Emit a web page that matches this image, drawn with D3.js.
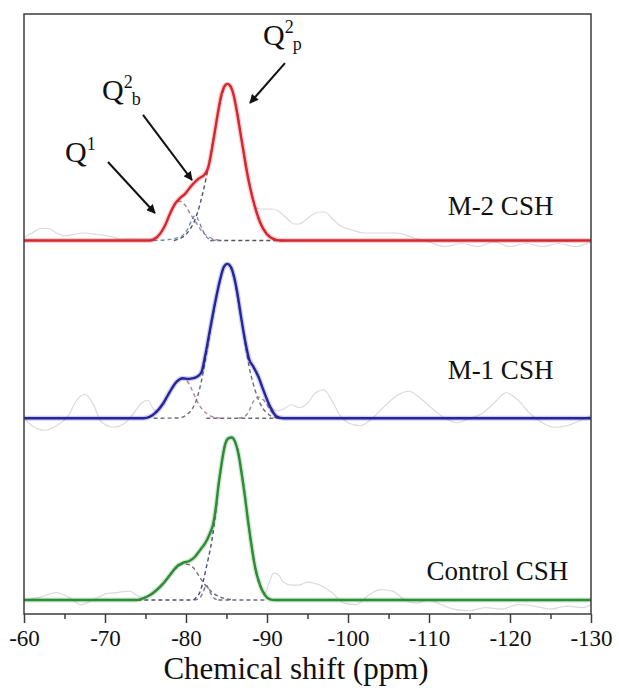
<!DOCTYPE html>
<html><head><meta charset="utf-8">
<script src="https://cdn.jsdelivr.net/npm/d3@7"></script>
<style>
body{margin:0;background:#fff}
svg{display:block}
</style>
</head><body>
<svg id="chart" width="619" height="692"></svg>
<script>
// ---------------- DATA ----------------
const xTicks = [-60,-70,-80,-90,-100,-110,-120,-130];
const xMinorTicks = [-65,-75,-85,-95,-105,-115,-125];
const xLabel = "Chemical shift (ppm)";
const sampleNames = ["M-2 CSH","M-1 CSH","Control CSH"];
const sampleColors = ["#d8262e","#25259c","#2e8c35"];
const offsets = [2.49, 1.305, 0.093];   // vertical stacking offsets (a.u.)

// fitted envelopes  [ppm, intensity]
const envM2 = [[-60,0],[-75.56,0],[-76.17,0.011],[-76.79,0.044],[-77.41,0.10],[-78.02,0.178],[-78.64,0.244],[-79.17,0.278],[-79.88,0.311],[-80.70,0.367],[-81.52,0.411],[-82.35,0.444],[-82.76,0.489],[-83.17,0.60],[-83.58,0.733],[-83.99,0.867],[-84.40,0.978],[-84.81,1.033],[-85.10,1.044],[-85.43,1.033],[-85.84,0.978],[-86.26,0.867],[-86.67,0.733],[-87.08,0.60],[-87.49,0.467],[-87.90,0.356],[-88.52,0.222],[-89.14,0.122],[-89.96,0.044],[-90.78,0.011],[-91.60,0],[-130,0]];
const envM1 = [[-60,0],[-74.73,0],[-75.56,0.011],[-76.38,0.044],[-77.20,0.10],[-78.02,0.178],[-78.85,0.244],[-79.59,0.267],[-80.29,0.262],[-80.91,0.267],[-81.52,0.282],[-81.94,0.311],[-82.35,0.411],[-82.96,0.589],[-83.58,0.767],[-84.20,0.922],[-84.69,1.011],[-85.10,1.029],[-85.51,1.011],[-85.93,0.944],[-86.34,0.833],[-86.79,0.678],[-87.28,0.522],[-87.82,0.389],[-88.31,0.344],[-88.93,0.278],[-89.54,0.189],[-90.37,0.078],[-91.20,0.011],[-92.01,0],[-130,0]];
const envCtrl = [[-60,0],[-73.91,0],[-74.73,0.011],[-75.56,0.033],[-76.38,0.067],[-77.20,0.111],[-78.02,0.167],[-78.85,0.222],[-79.67,0.249],[-80.41,0.26],[-81.11,0.289],[-81.73,0.333],[-82.35,0.378],[-82.96,0.444],[-83.37,0.511],[-83.70,0.622],[-83.99,0.756],[-84.40,0.911],[-84.81,1.033],[-85.23,1.078],[-85.64,1.084],[-86.05,1.056],[-86.46,0.978],[-86.87,0.844],[-87.28,0.689],[-87.70,0.511],[-88.11,0.356],[-88.52,0.222],[-89.14,0.10],[-89.75,0.033],[-90.37,0.004],[-90.99,0],[-130,0]];

// deconvolution components (dashed)
const m2Q1  = [[-75.6,0],[-76.2,0.011],[-76.8,0.044],[-77.4,0.10],[-78.0,0.175],[-78.6,0.235],[-79.2,0.262],[-79.9,0.235],[-80.5,0.18],[-81.3,0.115],[-82.0,0.06],[-82.8,0.025],[-83.6,0.006],[-84.5,0]];
const m2Q2b = [[-76,0],[-77.5,0.004],[-78.5,0.012],[-79.5,0.03],[-80.2,0.075],[-80.7,0.135],[-81.1,0.165],[-81.5,0.14],[-82.0,0.075],[-82.5,0.025],[-83.2,0.004],[-84,0]];
const m2Q2p = [[-78.5,0],[-79.5,0.02],[-80,0.04],[-80.5,0.075],[-81,0.125],[-81.5,0.2],[-82,0.3],[-82.5,0.42],[-83,0.56],[-83.5,0.71],[-84,0.86],[-84.5,0.98],[-85.1,1.044],[-85.7,1.0],[-86.3,0.86],[-87,0.63],[-87.5,0.47],[-88,0.34],[-88.5,0.225],[-89.1,0.125],[-90,0.045],[-90.8,0.012],[-91.6,0],[-92.5,0]];
const m2Base = [[-83,0],[-92.5,0]];

const m1Q1  = [[-74.7,0],[-75.6,0.011],[-76.4,0.044],[-77.2,0.10],[-78.0,0.175],[-78.85,0.24],[-79.6,0.262],[-80.3,0.235],[-80.9,0.17],[-81.4,0.11],[-82,0.06],[-82.6,0.03],[-83.3,0.01],[-84.5,0]];
const m1Q2p = [[-76,0],[-79,0.002],[-80,0.02],[-80.6,0.05],[-81.2,0.11],[-81.7,0.2],[-82.1,0.3],[-82.5,0.42],[-83,0.58],[-83.6,0.767],[-84.2,0.92],[-84.7,1.01],[-85.1,1.029],[-85.5,1.01],[-85.9,0.94],[-86.3,0.83],[-86.8,0.67],[-87.3,0.5],[-87.8,0.34],[-88.3,0.23],[-88.9,0.13],[-89.5,0.065],[-90.2,0.025],[-91,0.005],[-92,0]];
const m1Q3  = [[-86.5,0],[-87.2,0.01],[-87.8,0.05],[-88.3,0.11],[-88.7,0.135],[-89.0,0.14],[-89.4,0.13],[-89.9,0.1],[-90.4,0.055],[-91,0.02],[-91.6,0.005],[-92.2,0]];
const m1Base = [[-82.5,0],[-92,0]];

const ctQ1  = [[-73.9,0],[-74.7,0.011],[-75.6,0.033],[-76.4,0.067],[-77.2,0.111],[-78.0,0.165],[-78.85,0.215],[-79.7,0.24],[-80.4,0.235],[-80.9,0.215],[-81.5,0.17],[-82.1,0.12],[-82.7,0.08],[-83.4,0.045],[-84.2,0.02],[-85,0.008],[-86,0]];
const ctQ2b = [[-81,0],[-81.6,0.01],[-82.1,0.05],[-82.5,0.1],[-82.9,0.06],[-83.4,0.015],[-84,0]];
const ctQ2p = [[-74,0],[-80.8,0],[-81.3,0.02],[-81.7,0.05],[-82.1,0.12],[-82.6,0.24],[-83.2,0.40],[-83.7,0.6],[-84.0,0.75],[-84.4,0.91],[-84.8,1.03],[-85.2,1.075],[-85.6,1.084],[-86.05,1.056],[-86.5,0.978],[-86.9,0.844],[-87.3,0.689],[-87.7,0.511],[-88.1,0.356],[-88.5,0.222],[-89.1,0.1],[-89.75,0.033],[-90.4,0.004],[-91,0]];
const ctBase = [[-84,0],[-90,0]];

// experimental spectra (faint grey, visible outside the fitted peaks)
const expM2L = [[-60,0.02],[-61,0.05],[-62,0.08],[-63,0.08],[-64,0.05],[-65,0.03],[-66,0.04],[-67.5,0.05],[-69,0.04],[-70.5,0.03],[-72,0.01],[-73.5,0.015],[-75,0.01],[-76,0.02],[-76.8,0.045]];
const expM2R = [[-88.52,0.222],[-89.2,0.21],[-90,0.21],[-90.6,0.21],[-91.3,0.2],[-92,0.17],[-92.6,0.14],[-93.3,0.11],[-94,0.11],[-94.6,0.13],[-95.3,0.16],[-96.5,0.19],[-97.1,0.19],[-98,0.15],[-99,0.1],[-100.5,0.07],[-102,0.05],[-104,0.05],[-106,0.05],[-108,0.02],[-110,-0.01],[-112,-0.04],[-114,-0.02],[-116,-0.04],[-118,-0.01],[-120,-0.04],[-122,-0.02],[-124,-0.04],[-126,-0.02],[-128,-0.04],[-130,-0.01]];
const expM1L = [[-60,0.0],[-61,-0.05],[-62.5,-0.08],[-64,-0.05],[-65.5,0.02],[-66.5,0.12],[-67.5,0.16],[-68.5,0.1],[-69.5,-0.02],[-71,-0.06],[-72.5,-0.03],[-73.5,0.03],[-74.5,0.1],[-75.3,0.12],[-76,0.06],[-76.4,0.044]];
const expM1R = [[-90.37,0.078],[-91.2,0.05],[-92,0.06],[-93,0.09],[-94,0.07],[-95,0.1],[-96,0.17],[-97,0.19],[-98,0.12],[-99,0.02],[-100,-0.03],[-101.5,-0.05],[-103,0.0],[-104.5,0.08],[-106,0.15],[-107.5,0.18],[-109,0.13],[-110.5,0.06],[-112,0.0],[-113.5,-0.03],[-115,0.0],[-116.5,0.03],[-118,0.1],[-119.5,0.17],[-121,0.12],[-122.5,0.03],[-124,-0.03],[-125.5,-0.06],[-127,-0.05],[-128.5,-0.02],[-130,0.02]];
const expCtL = [[-60,0.0],[-62,0.02],[-64,0.05],[-65.5,0.02],[-67,-0.03],[-68.5,0.0],[-70,0.04],[-71.5,0.05],[-73,0.06],[-74,0.03],[-74.7,0.011]];
const expCtR = [[-89.75,0.033],[-90.3,0.12],[-90.8,0.18],[-91.4,0.17],[-92,0.12],[-93,0.1],[-94,0.1],[-95,0.12],[-96.5,0.1],[-98,0.05],[-99.5,-0.02],[-101,-0.03],[-102.5,0.03],[-104,0.07],[-105.5,0.06],[-107,0.0],[-108.5,-0.02],[-110,0.0],[-111.5,-0.03],[-113,-0.06],[-115,-0.07],[-117,-0.05],[-119,-0.06],[-121,-0.03],[-123,-0.04],[-125,-0.06],[-127,-0.04],[-129,-0.05],[-130,-0.03]];

// annotations [ppm, y(a.u.)]
const peakLabels = [
  {main:"Q", sup:"1", sub:"", at:[-65.06,3.013], arrowFrom:[-70.37,3.013], arrowTo:[-76.17,2.673]},
  {main:"Q", sup:"2", sub:"b", at:[-69.63,3.427], arrowFrom:[-74.69,3.327], arrowTo:[-80.74,2.893]},
  {main:"Q", sup:"2", sub:"p", at:[-89.51,3.793], arrowFrom:[-92.22,3.673], arrowTo:[-87.9,3.407]}
];

// ---------------- CHART ----------------
const FONT = "Liberation Serif";
const W = 619, H = 692;
const m = {left:24, right:28, top:14, bottom:78};
const svg = d3.select("#chart");
const x = d3.scaleLinear().domain([-60,-130]).range([m.left, W - m.right]);
const y = d3.scaleLinear().domain([0,4]).range([H - m.bottom, m.top]);

const defs = svg.append("defs");
defs.append("clipPath").attr("id","clip")
  .append("rect").attr("x",m.left).attr("y",m.top)
  .attr("width",x.range()[1]-m.left).attr("height",y.range()[0]-m.top);

const plot = svg.append("g").attr("clip-path","url(#clip)");

const line = off => d3.line().x(d=>x(d[0])).y(d=>y(d[1]+off)).curve(d3.curveMonotoneX);

const spectra = [
  {env:envM2, comps:[[m2Base,"#505560"],[m2Q1,"#b17d93"],[m2Q2b,"#6a90b2"],[m2Q2p,"#4d5366"]], exp:[expM2L,expM2R]},
  {env:envM1, comps:[[m1Base,"#6a6a78"],[m1Q1,"#b88298"],[m1Q2p,"#6b6b7a"],[m1Q3,"#9f8496"]], exp:[expM1L,expM1R]},
  {env:envCtrl, comps:[[ctBase,"#6d6a80"],[ctQ1,"#766a82"],[ctQ2b,"#7a7490"],[ctQ2p,"#4b4c78"]], exp:[expCtL,expCtR]}
];

spectra.forEach((s,i)=>{
  const off = offsets[i];
  s.exp.forEach(seg=>{
    plot.append("path").attr("d", line(off)(seg))
      .attr("fill","none").attr("stroke","#dadade").attr("stroke-width",1.2);
  });
  s.comps.forEach(([c,col])=>{
    plot.append("path").attr("d", line(off)(c))
      .attr("fill","none").attr("stroke",col).attr("stroke-width",1.4)
      .attr("stroke-dasharray","4,3");
  });
  plot.append("path").attr("d", line(off)(s.env))
    .attr("fill","none").attr("stroke",sampleColors[i]).attr("stroke-opacity",0.22)
    .attr("stroke-width",5);
  plot.append("path").attr("d", line(off)(s.env))
    .attr("fill","none").attr("stroke",sampleColors[i]).attr("stroke-width",2.4)
    .attr("stroke-linejoin","round");
});

function txt(sel){ return sel.attr("font-family",FONT).attr("fill","#111"); }

// sample labels
const labelPos = [[-112.3,2.66],[-112.3,1.57],[-109.7,0.227]];
sampleNames.forEach((n,i)=>{
  txt(svg.append("text")).attr("x",x(labelPos[i][0])).attr("y",y(labelPos[i][1]))
    .attr("font-size",27).text(n);
});

// frame
svg.append("rect").attr("x",m.left).attr("y",m.top)
  .attr("width",x.range()[1]-m.left).attr("height",y.range()[0]-m.top)
  .attr("fill","none").attr("stroke","#3c3c3c").attr("stroke-width",1.5);

// axes
const gx = svg.append("g").attr("transform",`translate(0,${y.range()[0]})`)
  .call(d3.axisBottom(x).tickValues(xTicks).tickSize(9).tickFormat(d=>String(d)));
gx.select(".domain").remove();
gx.attr("font-family",FONT).attr("font-size",23);
gx.selectAll(".tick line").attr("stroke","#3c3c3c").attr("stroke-width",1.5);
txt(gx.selectAll(".tick text")).attr("y",32).attr("dy",0).attr("font-size",23);
const gm = svg.append("g").attr("transform",`translate(0,${y.range()[0]})`)
  .call(d3.axisBottom(x).tickValues(xMinorTicks).tickSize(5));
gm.select(".domain").remove();
gm.selectAll(".tick text").remove();
gm.selectAll(".tick line").attr("stroke","#3c3c3c").attr("stroke-width",1.5);

txt(svg.append("text")).attr("x",296).attr("y",679).attr("text-anchor","middle")
  .attr("font-size",31).text(xLabel);

// arrows & peak labels
defs.append("marker").attr("id","arr")
  .attr("viewBox","0 0 10 10").attr("refX",9).attr("refY",5)
  .attr("markerWidth",5).attr("markerHeight",4.5).attr("orient","auto")
  .append("path").attr("d","M0,0 L10,5 L0,10 z").attr("fill","#111");

peakLabels.forEach(p=>{
  svg.append("line")
    .attr("x1",x(p.arrowFrom[0])).attr("y1",y(p.arrowFrom[1]))
    .attr("x2",x(p.arrowTo[0])).attr("y2",y(p.arrowTo[1]))
    .attr("stroke","#111").attr("stroke-width",2).attr("marker-end","url(#arr)");
  const t = txt(svg.append("text")).attr("x",x(p.at[0])).attr("y",y(p.at[1])).attr("font-size",30);
  t.append("tspan").text(p.main);
  t.append("tspan").attr("font-size",18).attr("dy",-12).text(p.sup);
  if(p.sub) t.append("tspan").attr("font-size",18).attr("dx",-1).attr("dy",17).text(p.sub);
});
</script>
</body></html>
